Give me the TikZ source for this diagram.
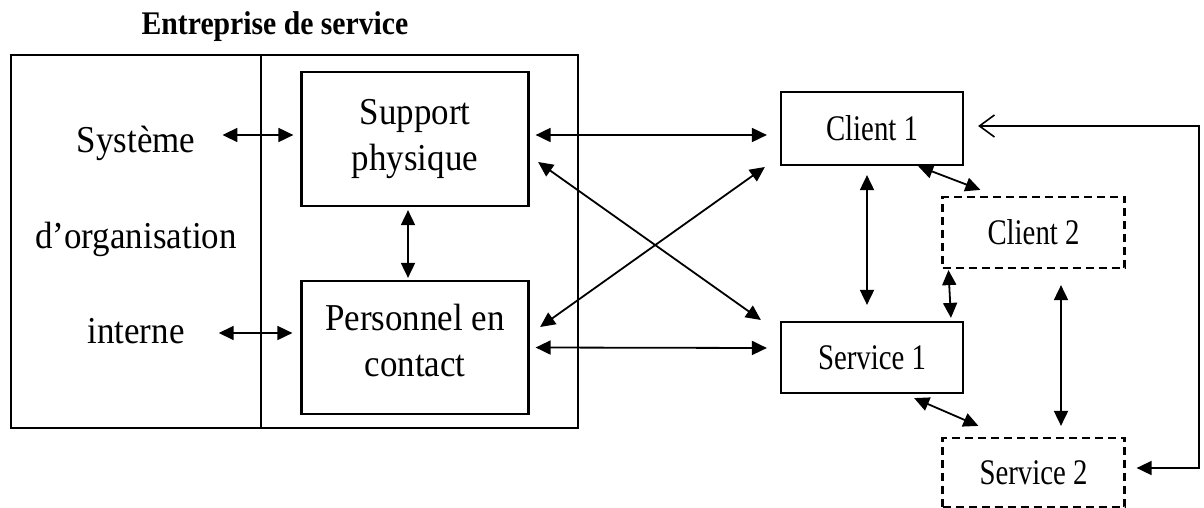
\documentclass[tikz,border=0pt]{standalone}
\usepackage{fontspec}
\setmainfont{Liberation Serif}[FakeStretch=0.92]
\newfontfamily\narrowserif{Liberation Serif}[FakeStretch=0.8]
\newfontfamily\titleserif{Liberation Serif}[FakeStretch=0.9]
\usetikzlibrary{arrows.meta}

\begin{document}
\begin{tikzpicture}[
                x=1pt, y=-1pt, >={Triangle[length=15pt, width=14pt]},
                box/.style={draw, line width=2.2pt, align=center, inner sep=0pt,
                        font=\fontsize{38}{46}\selectfont},
                actor/.style={draw, line width=2.2pt, inner sep=0pt,
                        minimum width=182pt, minimum height=71pt,
                        font=\narrowserif\fontsize{36}{40}\selectfont},
                dashactor/.style={actor, dash pattern=on 8pt off 5pt},
                side/.style={inner sep=0pt, font=\fontsize{38}{40}\selectfont},
                dbl/.style={<->, line width=1.8pt} ]

            \useasboundingbox (0,0) rectangle (1204,508);

            % enterprise frame
            \node[inner sep=0pt, font=\titleserif\bfseries\fontsize{33}{36}\selectfont]
                (titre) at (275,27) {Entreprise de service};
            \node[draw, line width=2.2pt, minimum width=567pt, minimum height=373pt]
                (entreprise) at (294.5,241.5) {};
            \draw[line width=2.2pt] ([xshift=-33.5pt]entreprise.north) -- ([xshift=-33.5pt]entreprise.south);

            \node[side] (sys1) at (136,143) {Système};
            \node[side] (sys2) at (136,239) {d’organisation};
            \node[side] (sys3) at (136,331) {interne};

            \node[box, minimum width=227pt, minimum height=134pt] (support) at (415,139) {Support\\physique};
            \node[box, minimum width=227pt, minimum height=133pt] (pers) at (415,347.5) {Personnel en\\contact\strut};

            % clients and services
            \node[actor, minimum height=73pt] (client1) at (872,128.5) {Client 1};
            \node[dashactor] (client2) at (1033.5,232.5) {Client 2};
            \node[actor] (serv1) at (872,357.5) {Service 1};
            \node[dashactor, minimum height=69pt] (serv2) at (1033.5,472.5) {Service 2};

            \draw[dbl] ([xshift=27pt,yshift=8pt]sys1.east) -- ([xshift=-7pt,yshift=4pt]support.west);
            \draw[dbl] ([xshift=34pt,yshift=-2pt]sys3.east) -- ([xshift=-8pt,yshift=14.5pt]pers.west);
            \draw[dbl, shorten <=3pt, shorten >=2pt] ([xshift=-7pt]support.south) -- ([xshift=-7pt]pers.north);

            \draw[dbl] ([xshift=6pt,yshift=4pt]support.east) -- ([xshift=-13pt,yshift=-6.5pt]client1.west);
            \draw[dbl] ([xshift=6pt]pers.east) -- ([xshift=-13pt,yshift=9.5pt]serv1.west);
            \draw[dbl] ([xshift=8.5pt,yshift=-23pt]support.east) -- ([xshift=-19pt,yshift=37.5pt]serv1.west);
            \draw[dbl] ([xshift=10.5pt,yshift=20.5pt]pers.east) -- ([xshift=-15pt,yshift=-38.5pt]client1.west);

            \draw[dbl, shorten <=9pt, shorten >=16pt] ([xshift=-5pt]client1.south) -- ([xshift=-5pt]serv1.north);
            \draw[dbl] ([xshift=-46pt]client1.south east) -- ([xshift=39pt,yshift=6pt]client2.north west);
            \draw[dbl, shorten <=1pt, shorten >=3pt] ([xshift=7pt]client2.south west) -- ([xshift=-13pt]serv1.north east);
            \draw[dbl, shorten <=16pt, shorten >=11pt] ([xshift=27.5pt]client2.south) -- ([xshift=27.5pt]serv2.north);
            \draw[dbl] ([xshift=-50pt,yshift=-4pt]serv1.south east) -- ([xshift=37pt,yshift=11pt]serv2.north west);

            % loop back from service 2 to client 1
            \coordinate (retour) at (1199,300);
            \draw[line width=1.6pt, {Triangle[length=15pt, width=14pt]}-{Straight Barb[length=15pt, width=22pt]}]
                ([xshift=11pt,yshift=4.5pt]serv2.east) -| (retour) |- ([xshift=14pt,yshift=2.5pt]client1.east);
        \end{tikzpicture}
\end{document}
